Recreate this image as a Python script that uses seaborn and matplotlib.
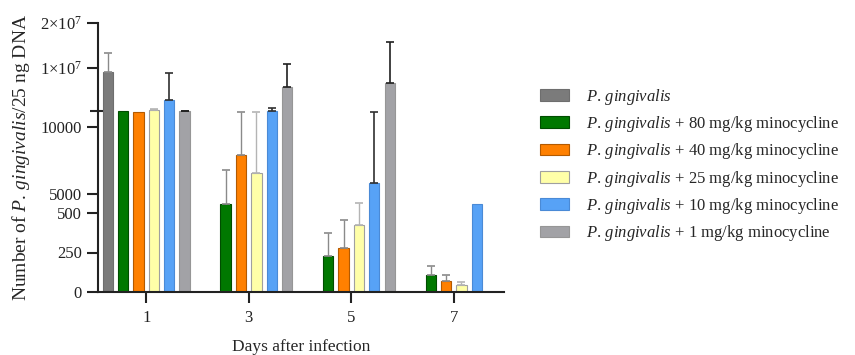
import numpy as np
import pandas as pd
import matplotlib
matplotlib.use("Agg")
import matplotlib.pyplot as plt
from matplotlib.patches import Patch
import seaborn as sns

# ---------------- data ----------------
days = ["1", "3", "5", "7"]
groups = [
    "P. gingivalis",
    "P. gingivalis + 80 mg/kg minocycline",
    "P. gingivalis + 40 mg/kg minocycline",
    "P. gingivalis + 25 mg/kg minocycline",
    "P. gingivalis + 10 mg/kg minocycline",
    "P. gingivalis + 1 mg/kg minocycline",
]
legend_labels = [
    r"$\it{P.\,gingivalis}$",
    r"$\it{P.\,gingivalis}$ + 80 mg/kg minocycline",
    r"$\it{P.\,gingivalis}$ + 40 mg/kg minocycline",
    r"$\it{P.\,gingivalis}$ + 25 mg/kg minocycline",
    r"$\it{P.\,gingivalis}$ + 10 mg/kg minocycline",
    r"$\it{P.\,gingivalis}$ + 1 mg/kg minocycline",
]
pg_mean = [9.1e6, np.nan, np.nan, np.nan]
pg_sd = [4.2e6, np.nan, np.nan, np.nan]
m80_mean = [11170, 4254, 228, 106]
m80_sd = [0, 2540, 145, 60]
m40_mean = [11120, 7910, 276, 72]
m40_sd = [0, 3190, 178, 34]
m25_mean = [6.7e5, 6567, 426, 42]
m25_sd = [2.2e5, 4530, 3880, 23]
m10_mean = [2.9e6, 11170, 5820, 4254]
m10_sd = [6.0e6, 1.1e6, 5330, np.nan]
m1_mean = [11180, 5.7e6, 6.67e6, np.nan]
m1_sd = [1.1e5, 5.1e6, 9.2e6, np.nan]

means = [pg_mean, m80_mean, m40_mean, m25_mean, m10_mean, m1_mean]
sds = [pg_sd, m80_sd, m40_sd, m25_sd, m10_sd, m1_sd]

colors = ["#7b7b7b", "#007800", "#ff8000", "#ffffa8", "#57a2f6", "#a2a2a6"]
edge_colors = ["#6e6e6e", "#004d00", "#b35a00", "#a0a0a0", "#4a8ad6", "#969696"]
err_colors = ["#8a8a8a", "#8a8a8a", "#8a8a8a", "#b4b4b4", "#303030", "#202020"]

yticks = [0, 250, 500, 5000, 10000, 1e7, 2e7]
ytick_labels = ["0", "250", "500", "5000", "10000",
                r"$\mathregular{1{\times}10^{7}}$", r"$\mathregular{2{\times}10^{7}}$"]

# ---------------- segmented axis ----------------
seg_vals = np.array([0, 500, 3582, 11194, 4.44e5, 2e7])
seg_pos = np.array([0, 79, 79.001, 181, 181.001, 269])


def fwd(v):
    v = np.asarray(v, dtype=float)
    return np.interp(v, seg_vals, seg_pos, left=-1, right=270)


def inv(p):
    p = np.asarray(p, dtype=float)
    return np.interp(p, seg_pos, seg_vals)


# ---------------- style ----------------
sns.set_style("ticks")
plt.rcParams["font.family"] = ["Liberation Serif", "DejaVu Serif"]
plt.rcParams["mathtext.fontset"] = "custom"
plt.rcParams["mathtext.rm"] = "Liberation Serif"
plt.rcParams["mathtext.it"] = "Liberation Serif:italic"
plt.rcParams["font.size"] = 12

rows = []
for g, m in zip(groups, means):
    for d, v in zip(days, m):
        rows.append({"day": d, "group": g, "value": v})
df = pd.DataFrame(rows)

fig = plt.figure(figsize=(8.55, 3.55), dpi=100)
ax = fig.add_axes([98 / 855, 1 - 292 / 355, (504 - 98) / 855, (292 - 23) / 355])
ax.set_yscale("function", functions=(fwd, inv))

sns.barplot(data=df, x="day", y="value", hue="group", order=days, hue_order=groups,
            palette=colors, saturation=1, width=0.9, gap=0.33, errorbar=None, ax=ax,
            linewidth=0.8, legend=False)

bar_containers = list(ax.containers)
for ci, cont in enumerate(bar_containers):
    xs, ys, es = [], [], []
    for bar in cont:
        if bar is None:
            continue
        bar.set_edgecolor(edge_colors[ci])
        xc = bar.get_x() + bar.get_width() / 2
        k = int(round(xc))
        mval, sval = means[ci][k], sds[ci][k]
        if np.isnan(mval) or np.isnan(sval) or sval <= 0:
            continue
        xs.append(xc)
        ys.append(mval)
        es.append(sval)
    if xs:
        ax.errorbar(xs, ys, yerr=[np.zeros(len(es)), es], fmt="none",
                    ecolor=err_colors[ci], elinewidth=1.2 if ci >= 4 else 1.0,
                    capsize=3, capthick=1.2, zorder=1)

ax.set_xlim(-0.47, 3.49)
ax.set_ylim(0, 2e7)
ax.set_yticks(yticks)
ax.set_yticklabels(ytick_labels)
ax.set_yticks([11194], minor=True)
ax.yaxis.set_minor_formatter(matplotlib.ticker.NullFormatter())
ax.tick_params(axis="y", which="minor", direction="inout", length=12, width=1.5)
ax.tick_params(axis="both", which="major", length=8, width=1.5, labelsize=12, colors="#222222")
ax.tick_params(axis="x", length=8, pad=5)

sns.despine(ax=ax)
for s in ["left", "bottom"]:
    ax.spines[s].set_linewidth(1.5)
    ax.spines[s].set_color("#222222")

ax.set_xlabel("Days after infection", fontsize=12.5, labelpad=9)
ax.set_ylabel(r"Number of $\it{P.\,gingivalis}$/25 ng DNA", fontsize=14, labelpad=6)

handles = [Patch(facecolor=c, edgecolor=e, linewidth=0.8) for c, e in zip(colors, edge_colors)]
fig.legend(handles, legend_labels, loc="upper left", bbox_to_anchor=(533 / 855, 1 - 80 / 355),
           frameon=False, fontsize=12, handlelength=1.75, handleheight=0.7,
           handletextpad=1.0, labelspacing=0.44, borderaxespad=0)

fig.savefig("out.png", dpi=100)
